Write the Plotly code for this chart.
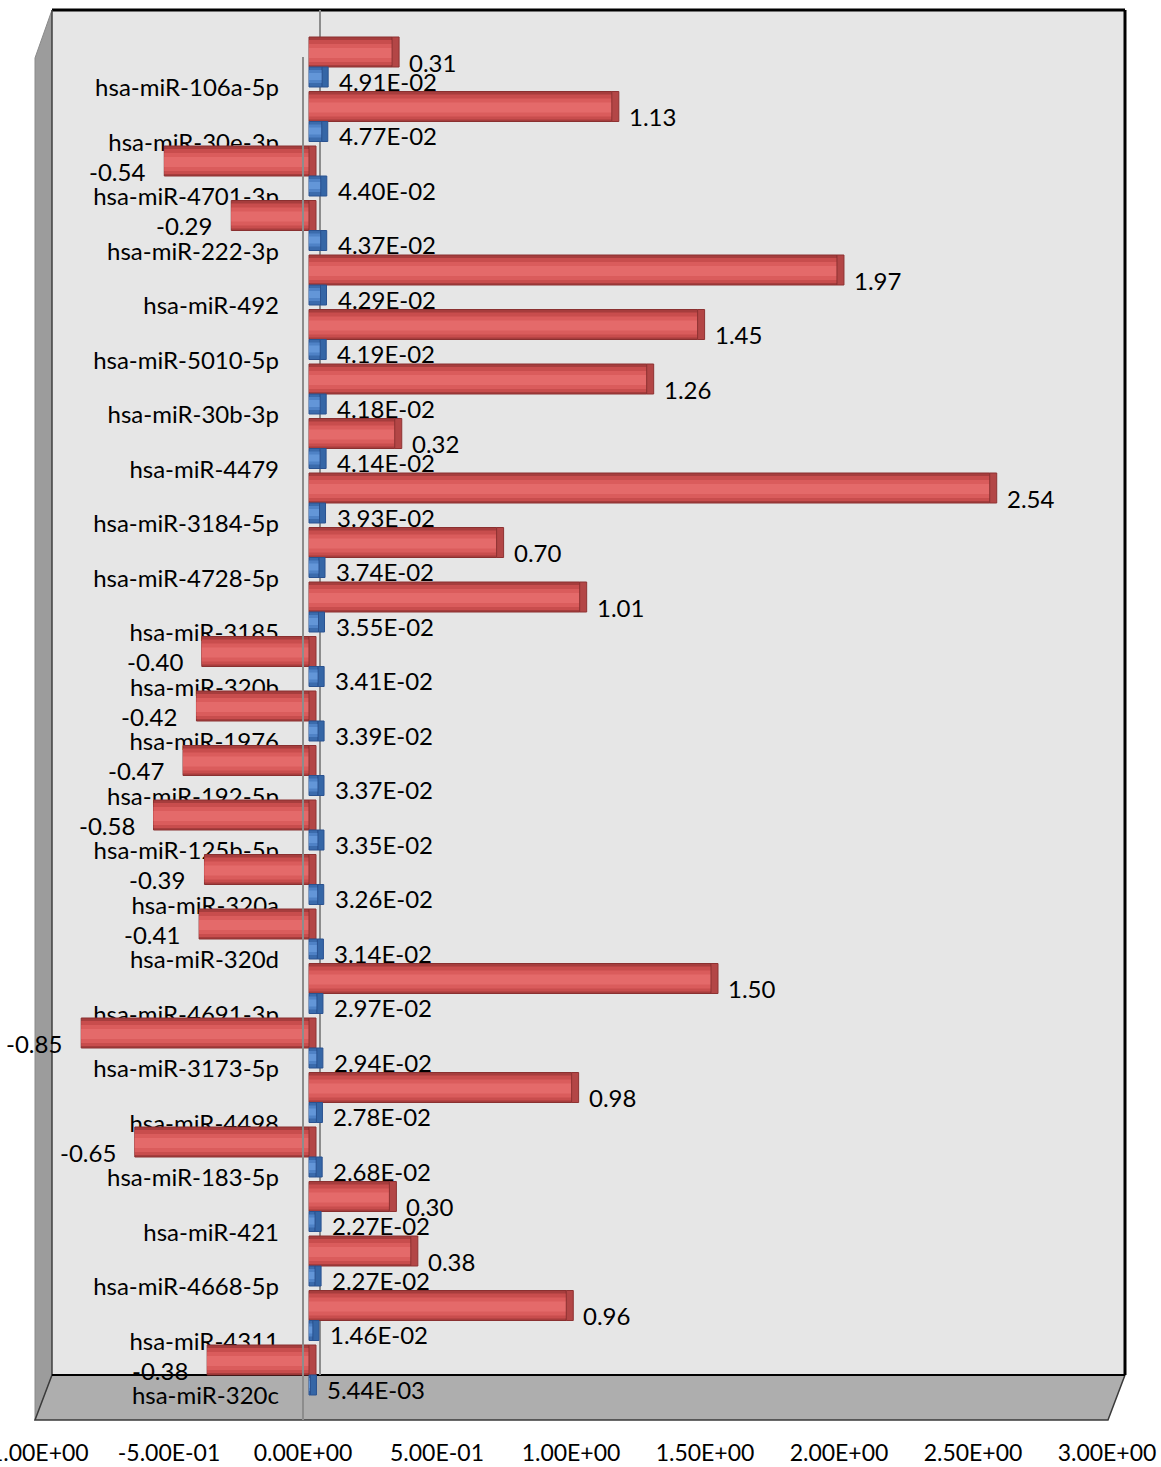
import plotly.graph_objects as go

# ---- data -------------------------------------------------------------
mirnas = [
    "hsa-miR-106a-5p", "hsa-miR-30e-3p", "hsa-miR-4701-3p", "hsa-miR-222-3p",
    "hsa-miR-492", "hsa-miR-5010-5p", "hsa-miR-30b-3p", "hsa-miR-4479",
    "hsa-miR-3184-5p", "hsa-miR-4728-5p", "hsa-miR-3185", "hsa-miR-320b",
    "hsa-miR-1976", "hsa-miR-192-5p", "hsa-miR-125b-5p", "hsa-miR-320a",
    "hsa-miR-320d", "hsa-miR-4691-3p", "hsa-miR-3173-5p", "hsa-miR-4498",
    "hsa-miR-183-5p", "hsa-miR-421", "hsa-miR-4668-5p", "hsa-miR-4311",
    "hsa-miR-320c",
]
fold_change = [
    0.31, 1.13, -0.54, -0.29, 1.97, 1.45, 1.26, 0.32, 2.54, 0.70, 1.01, -0.40,
    -0.42, -0.47, -0.58, -0.39, -0.41, 1.50, -0.85, 0.98, -0.65, 0.30, 0.38,
    0.96, -0.38,
]
p_values = [
    4.91e-02, 4.77e-02, 4.40e-02, 4.37e-02, 4.29e-02, 4.19e-02, 4.18e-02,
    4.14e-02, 3.93e-02, 3.74e-02, 3.55e-02, 3.41e-02, 3.39e-02, 3.37e-02,
    3.35e-02, 3.26e-02, 3.14e-02, 2.97e-02, 2.94e-02, 2.78e-02, 2.68e-02,
    2.27e-02, 2.27e-02, 1.46e-02, 5.44e-03,
]
x_ticks = [-1.0, -0.5, 0.0, 0.5, 1.0, 1.5, 2.0, 2.5, 3.0]
x_tick_text = [format(v, ".2E") for v in x_ticks]

# ---- geometry (pixels) -----------------------------------------------
W, H = 1161, 1467
PL, PR, PT, PB = 35, 1107, 10, 1420          # front-plane plot box
UNIT_PX = (PR - PL) / (x_ticks[-1] - x_ticks[0])
SLOT_PX = 54.5                               # one category step
SLOT0_PX = 62                                # centre of first category slot
DEPTH_SHIFT = 6                              # bars sit slightly behind the front plane
FONT = "Lato"


def px(x):
    return (x - PL) / (PR - PL)


def py(y):
    return (PB - y) / (PB - PT)


def slot_units(p):
    return p / SLOT_PX


n = len(mirnas)
y_range = [(PB - SLOT0_PX) / SLOT_PX, (PT - SLOT0_PX) / SLOT_PX]
label_shift = 26 / SLOT_PX
y2_range = [y_range[0] - label_shift, y_range[1] - label_shift]
shift_u = DEPTH_SHIFT / UNIT_PX
x2_range = [x_ticks[0] - shift_u, x_ticks[-1] - shift_u]
cap_red = 7 / UNIT_PX
cap_blue = 6 / UNIT_PX

fig = go.Figure()


def add_bar(values, top_px, bottom_px, color, base=None, line_color=None, line_w=0):
    fig.add_trace(go.Bar(
        x=values, y=mirnas, base=base, orientation="h",
        offset=slot_units(top_px), width=slot_units(bottom_px - top_px),
        marker=dict(color=color,
                    line=dict(color=line_color or color, width=line_w)),
        xaxis="x2", yaxis="y", hoverinfo="skip", showlegend=False,
    ))


# red cylinders (fold change): shaded in bands, end cap on the right
add_bar(fold_change, -25, 5, "#A63D3D", line_color="#8A3030", line_w=1)
add_bar(fold_change, -22, 3, "#C84D4D")
add_bar(fold_change, -18, 0, "#DA5C5C")
add_bar(fold_change, -14, -4, "#E46A6A")
red_cap_base = [max(v, 0) for v in fold_change]
add_bar([cap_red] * n, -25, 5, "#B34646", base=red_cap_base,
        line_color="#8E3232", line_w=1)

# blue cylinders (p value)
add_bar(p_values, 5, 25, "#3B6BAC", line_color="#2A5290", line_w=1)
add_bar(p_values, 8, 21, "#4F82C6")
add_bar(p_values, 11, 18, "#6396D8")
add_bar([cap_blue] * n, 5, 25, "#3566A6", base=p_values,
        line_color="#2A5290", line_w=1)

# category labels on their own axis
fig.add_trace(go.Scatter(
    x=[0] * n, y=mirnas, mode="markers", marker=dict(opacity=0),
    xaxis="x", yaxis="y2", hoverinfo="skip", showlegend=False,
))

# value labels
annotations = []
for name, v in zip(mirnas, fold_change):
    annotations.append(dict(
        x=v, y=name, xref="x2", yref="y", text=f"{v:.2f}", showarrow=False,
        xanchor="left" if v >= 0 else "right", xshift=15 if v >= 0 else -17,
        yshift=0, font=dict(family=FONT, size=24, color="black"),
    ))
for name, p in zip(mirnas, p_values):
    annotations.append(dict(
        x=p, y=name, xref="x2", yref="y", text=format(p, ".2E"),
        showarrow=False, xanchor="left", xshift=15, yshift=-19,
        font=dict(family=FONT, size=24, color="black"),
    ))

# 3-D box: walls, floor, edges, zero lines
shapes = [
    dict(type="path", xref="paper", yref="paper", layer="below",
         path=f"M {px(35)},{py(58)} L {px(52)},{py(10)} L {px(52)},{py(1375)} "
              f"L {px(35)},{py(1420)} Z",
         fillcolor="#9C9C9C", line=dict(color="#8A8A8A", width=1)),
    dict(type="path", xref="paper", yref="paper", layer="below",
         path=f"M {px(35)},{py(1420)} L {px(52)},{py(1375)} L {px(1125)},{py(1375)} "
              f"L {px(1108)},{py(1420)} Z",
         fillcolor="#AEAEAE", line=dict(color="#3A3A3A", width=1.5)),
    dict(type="rect", xref="paper", yref="paper", layer="below",
         x0=px(52), x1=px(1125), y0=py(1375), y1=py(10),
         fillcolor="#E6E6E6", line=dict(width=0)),
    dict(type="line", xref="paper", yref="paper", layer="below",
         x0=px(52), x1=px(1125), y0=py(10), y1=py(10),
         line=dict(color="black", width=3)),
    dict(type="line", xref="paper", yref="paper", layer="below",
         x0=px(1125), x1=px(1125), y0=py(10), y1=py(1375),
         line=dict(color="black", width=3)),
    dict(type="line", xref="paper", yref="paper", layer="below",
         x0=px(52), x1=px(52), y0=py(10), y1=py(1375),
         line=dict(color="#404040", width=1.5)),
    dict(type="line", xref="paper", yref="paper", layer="below",
         x0=px(52), x1=px(1125), y0=py(1375), y1=py(1375),
         line=dict(color="black", width=2)),
    dict(type="line", xref="paper", yref="paper", layer="below",
         x0=px(320), x1=px(320), y0=py(10), y1=py(1375),
         line=dict(color="#8C8C8C", width=2)),
    dict(type="line", xref="x", yref="paper", layer="above",
         x0=0, x1=0, y0=py(1420), y1=py(57),
         line=dict(color="#8C8C8C", width=2)),
]

fig.update_layout(
    width=W, height=H, autosize=False,
    margin=dict(l=PL, r=W - PR, t=PT, b=H - PB, pad=0, autoexpand=False),
    paper_bgcolor="white", plot_bgcolor="rgba(0,0,0,0)",
    barmode="overlay", showlegend=False,
    font=dict(family=FONT, size=24, color="black"),
    xaxis=dict(range=[x_ticks[0], x_ticks[-1]], tickmode="array",
               tickvals=x_ticks, ticktext=x_tick_text, showgrid=False,
               zeroline=False, showline=False, ticks="",
               ticklabelstandoff=17, ticklabeloverflow="allow",
               tickfont=dict(family=FONT, size=23),
               anchor="y", automargin=False),
    xaxis2=dict(range=x2_range, overlaying="x", visible=False, anchor="y",
                automargin=False),
    yaxis=dict(type="category", categoryorder="array", categoryarray=mirnas,
               range=y_range, visible=False, automargin=False),
    yaxis2=dict(type="category", categoryorder="array", categoryarray=mirnas,
                range=y2_range, overlaying="y", anchor="free",
                position=px(279), side="left", showgrid=False,
                zeroline=False, showline=False, ticks="",
                tickfont=dict(family=FONT, size=24), automargin=False),
    annotations=annotations,
    shapes=shapes,
)

fig.write_html("out.html")
